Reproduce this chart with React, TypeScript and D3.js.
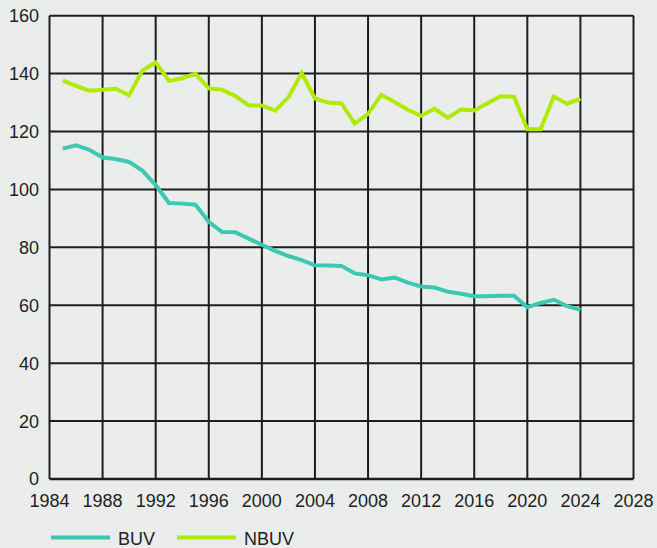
import React from "react";
import * as d3 from "d3";

const years: number[] = [
  1985, 1986, 1987, 1988, 1989, 1990, 1991, 1992, 1993, 1994,
  1995, 1996, 1997, 1998, 1999, 2000, 2001, 2002, 2003, 2004,
  2005, 2006, 2007, 2008, 2009, 2010, 2011, 2012, 2013, 2014,
  2015, 2016, 2017, 2018, 2019, 2020, 2021, 2022, 2023, 2024,
];

const buv: number[] = [
  114.1, 115.2, 113.7, 111.0, 110.5, 109.5, 106.5, 101.5, 95.3, 95.1,
  94.7, 88.8, 85.3, 85.2, 83.0, 80.9, 78.8, 77.0, 75.6, 73.8,
  73.7, 73.6, 71.0, 70.4, 68.9, 69.6, 67.8, 66.5, 66.1, 64.7,
  64.0, 63.1, 63.1, 63.3, 63.3, 59.3, 60.8, 61.9, 59.7, 58.4,
];

const nbuv: number[] = [
  137.6, 135.8, 134.1, 134.4, 134.8, 132.5, 141.1, 143.9, 137.5, 138.4,
  139.9, 134.9, 134.4, 132.3, 129.0, 129.0, 127.2, 131.8, 140.2, 131.4,
  130.0, 129.7, 122.7, 126.1, 132.7, 130.2, 127.5, 125.4, 127.9, 124.7,
  127.6, 127.3, 129.8, 132.2, 132.0, 120.8, 120.8, 132.1, 129.6, 131.3,
];

const xTicks: number[] = [1984, 1988, 1992, 1996, 2000, 2004, 2008, 2012, 2016, 2020, 2024, 2028];
const yTicks: number[] = [0, 20, 40, 60, 80, 100, 120, 140, 160];

const seriesNames: string[] = ["BUV", "NBUV"];
const seriesColors: string[] = ["#3cc8b2", "#b0ea00"];

export default function App() {
  const W = 657;
  const H = 548;
  const left = 49.5;
  const right = 633.5;
  const top = 15.7;
  const bottom = 479;
  const x = d3.scaleLinear().domain([1984, 2028]).range([left, right]);
  const y = d3.scaleLinear().domain([0, 160]).range([bottom, top]);
  const line = d3
    .line<number>()
    .x((_, i) => x(years[i]))
    .y((d) => y(d));
  const data = [buv, nbuv];
  const font = "'Liberation Sans', Arial, sans-serif";
  const legendX = [51, 177];

  return (
    <svg
      width={W}
      height={H}
      style={{ position: "absolute", left: 0, top: 0, display: "block" }}
      fontFamily={font}
    >
      <rect x={0} y={0} width={W} height={H} fill="#ebedec" />
      {yTicks.map((t) => (
        <line
          key={"gy" + t}
          x1={left}
          x2={right}
          y1={y(t)}
          y2={y(t)}
          stroke="#1e1e1e"
          strokeWidth={t === 0 ? 2.5 : 2}
        />
      ))}
      {xTicks.map((t) => (
        <line
          key={"gx" + t}
          x1={x(t)}
          x2={x(t)}
          y1={top}
          y2={bottom}
          stroke="#1e1e1e"
          strokeWidth={2}
        />
      ))}
      {data.map((d, i) => (
        <path
          key={seriesNames[i]}
          d={line(d) || ""}
          fill="none"
          stroke={seriesColors[i]}
          strokeWidth={4}
          strokeLinejoin="miter"
        />
      ))}
      {yTicks.map((t) => (
        <text
          key={"ly" + t}
          x={39}
          y={y(t)}
          dy="0.36em"
          textAnchor="end"
          fontSize={18}
          fill="#222"
        >
          {t}
        </text>
      ))}
      {xTicks.map((t) => (
        <text
          key={"lx" + t}
          x={x(t)}
          y={506.5}
          textAnchor="middle"
          fontSize={18}
          fill="#222"
        >
          {t}
        </text>
      ))}
      {seriesNames.map((n, i) => (
        <g key={"lg" + n}>
          <line
            x1={legendX[i]}
            x2={legendX[i] + 59}
            y1={537.5}
            y2={537.5}
            stroke={seriesColors[i]}
            strokeWidth={4}
          />
          <text x={legendX[i] + 67} y={544.5} fontSize={18} fill="#222">
            {n}
          </text>
        </g>
      ))}
    </svg>
  );
}
